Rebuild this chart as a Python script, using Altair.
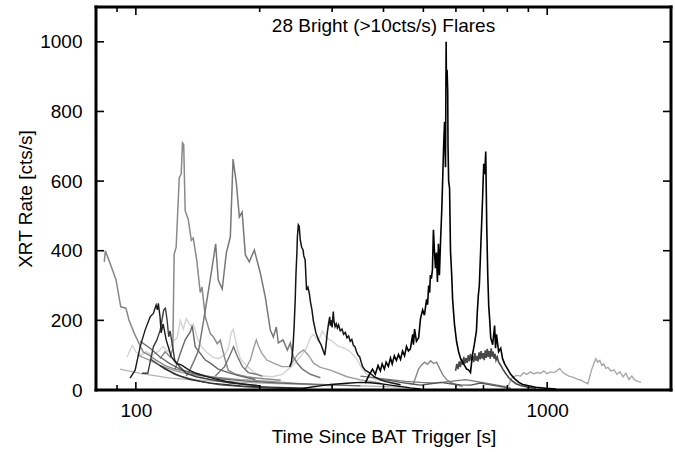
import altair as alt
import pandas as pd

TITLE = "28 Bright (>10cts/s) Flares"
X_TITLE = "Time Since BAT Trigger [s]"
Y_TITLE = "XRT Rate [cts/s]"
X_LABELS = [100, 1000]
X_MINOR = [90, 200, 300, 400, 500, 600, 700, 800, 900]
Y_LABELS = [0, 200, 400, 600, 800, 1000]
Y_TICKS = [200, 400, 600, 800, 1000]

# ---- light curves (time [s], rate [cts/s]) ----
K_T = [95.2, 98.0, 100.1, 102.9, 106.0, 109.5, 113.3, 116.5, 119.8, 123.2, 126.0, 128.2, 130.4, 132.6, 135.6,
       137.9, 141.0, 144.2, 148.3, 153.4, 158.6, 164.1, 167.8, 170.6, 172.6, 175.5, 179.5, 185.7, 194.1, 203.0,
       214.7, 227.0, 240.1, 251.1, 259.7, 265.6, 270.1, 277.8, 284.1, 290.5, 300.4, 310.7, 321.3, 332.3, 343.6,
       355.4, 367.6, 384.4, 415.8]
K_V = [95, 128, 109, 100, 110, 100, 110, 125, 110, 140, 150, 200, 175, 205, 185,
       190, 150, 125, 110, 95, 90, 100, 120, 165, 175, 130, 90, 70, 50, 40,
       38, 45, 70, 95, 120, 150, 160, 140, 170, 150, 140, 125, 120, 110, 90,
       60, 40, 30, 25]

N5_T = [91.5, 102.4, 121.2, 151.7, 189.8, 240.1, 297.1, 371.7, 439.8]
N5_V = [60, 48, 34, 26, 21, 17, 14, 11, 8]

N2_T = [101.0, 108.3, 114.5, 124.6, 135.6, 151.7, 179.5, 212.3, 251.1, 300.4]
N2_V = [100, 85, 70, 55, 45, 38, 30, 25, 18, 12]

Q_T = [184.6, 189.8, 193.3, 196.3, 198.8, 202.5, 208.2, 216.2, 226.6, 237.4, 241.8, 248.7, 255.8, 262.7,
       270.5, 280.9, 297.1, 326.2, 351.5, 393.2]
Q_V = [60, 86, 120, 144, 125, 105, 86, 77, 67, 67, 86, 105, 115, 100,
       77, 65, 57, 38, 29, 20]

J_T = [804, 815, 827, 843, 862, 877, 892, 912, 928, 944, 965, 981, 998, 1020, 1038, 1056, 1073, 1091,
       1110, 1129, 1153, 1180, 1207, 1235, 1256, 1270, 1284, 1298, 1313, 1327, 1343, 1358, 1373, 1389,
       1405, 1428, 1453, 1478, 1503, 1528, 1554, 1580, 1606, 1634, 1662, 1690]
J_V = [10, 30, 38, 42, 40, 50, 45, 52, 46, 50, 48, 55, 47, 52, 50, 55, 62, 50,
       45, 40, 37, 32, 28, 22, 18, 40, 60, 75, 90, 80, 85, 70, 75, 62,
       65, 55, 58, 45, 52, 38, 48, 30, 40, 28, 25, 22]

A_T = [83.8, 84.3, 86.0, 88.0, 89.5, 91.9, 94.6, 96.2, 99.0, 101.4, 104.2, 107.7, 111.9, 117.8, 124.6,
       135.6, 151.7, 169.7]
A_V = [368, 400, 373, 340, 316, 239, 235, 201, 164, 138, 109, 100, 86, 70, 60, 50, 38, 30]

B_T = [114.5, 117.8, 121.2, 123.0, 123.9, 125.3, 127.5, 128.9, 129.8, 130.7, 131.8, 134.1, 136.4, 137.9,
       140.6, 143.4, 144.8, 147.5, 150.0, 151.7, 154.5, 157.7, 160.4, 161.9, 165.0, 167.8, 175.0, 186.0,
       205.0, 225.0]
B_V = [90, 110, 95, 120, 390, 410, 610, 620, 710, 705, 515, 490, 430, 436,
       373, 280, 296, 210, 181, 162, 152, 133, 143, 123, 85, 56, 45, 38,
       32, 28]

C_T = [132.6, 135.6, 138.7, 142.1, 146.6, 151.1, 154.2, 156.3, 158.6, 162.2, 165.9, 169.7, 172.3, 175.5,
       178.5, 181.3, 184.6, 188.7, 194.1, 200.7, 206.4, 212.3, 215.9, 219.5, 222.0, 228.0, 233.5, 237.4,
       241.4, 246.9, 254.0, 265.6, 280.9]
C_V = [40, 60, 85, 114, 210, 306, 373, 420, 316, 290, 393, 440, 663, 594,
       497, 511, 388, 368, 402, 336, 267, 172, 152, 181, 135, 144, 115, 135,
       95, 77, 60, 45, 35]

I_T = [471.3, 478.6, 486.8, 495.0, 503.4, 512.0, 520.5, 529.4, 538.3, 547.5, 556.8, 569.4, 582.3, 602.2, 622.9]
I_V = [15, 35, 60, 72, 80, 74, 84, 76, 80, 62, 45, 30, 22, 15, 10]

T_T = [351.5, 382.3, 415.8, 452.3, 492.1, 535.3, 582.3, 633.4, 669.9, 708.5, 749.3, 792.7]
T_V = [40, 35, 30, 25, 22, 20, 25, 30, 25, 20, 15, 10]

P_T = [156.0, 164.3, 168.8, 172.8, 176.6, 181.6, 187.7, 196.3, 203.0]
P_V = [40, 67, 96, 124, 96, 67, 50, 45, 40]

N1_T = [102.4, 108.3, 114.5, 121.2, 128.2, 135.6, 143.4, 160.4, 189.8, 224.5, 280.9, 351.5]
N1_V = [140, 120, 95, 75, 60, 50, 42, 32, 25, 20, 16, 12]

O_T = [124.6, 128.2, 131.8, 135.6, 137.1, 139.4, 143.4, 147.5, 151.7, 158.6, 167.8, 179.5, 195.2]
O_V = [60, 105, 144, 167, 185, 124, 105, 86, 77, 60, 50, 40, 30]

S_T = [393.2, 415.8, 439.8, 465.1, 492.1, 520.5, 550.6, 582.3, 615.9, 651.3, 688.9, 728.6, 770.9, 815.4]
S_V = [30, 27, 22, 18, 14, 18, 22, 18, 15, 14, 20, 15, 10, 5]

H_T = [598.8, 603, 607, 611, 615, 619, 623, 627, 631, 635, 639, 643, 647, 651, 655, 659, 663, 667, 671,
       675, 679, 683, 687, 691, 695, 699, 703, 707, 711, 715, 719, 723, 727, 731, 735, 739, 743, 747,
       751, 756, 762, 770, 780, 792, 806, 822, 840, 865, 900, 940]
H_V = [55, 75, 60, 82, 66, 88, 72, 95, 76, 92, 78, 100, 82, 104, 85, 98, 80, 106, 84,
       98, 82, 108, 88, 112, 90, 106, 86, 114, 92, 118, 95, 112, 90, 120, 96, 110, 90, 104,
       86, 95, 80, 72, 60, 48, 36, 26, 18, 12, 8, 5]

N3_T = [108.3, 117.8, 128.2, 143.4, 160.4, 189.8, 224.5, 251.1]
N3_V = [90, 60, 40, 25, 15, 8, 5, 3]

M_T = [103.5, 106.9, 110.3, 112.5, 114.6, 116.9, 118.0, 119.1, 120.2, 121.1, 122.5, 124.3, 127.8, 132.6,
       140.2, 151.7, 169.7, 200.7]
M_V = [48, 48, 124, 144, 172, 230, 235, 201, 153, 170, 134, 86, 67, 48,
       38, 30, 20, 12]

N4_T = [114.5, 124.6, 135.6, 151.7, 179.5, 212.3, 260.0]
N4_V = [70, 45, 30, 20, 12, 8, 5]

L_T = [96.8, 99.6, 102.4, 105.3, 108.3, 110.3, 112.0, 112.8, 113.4, 114.5, 115.2, 116.5, 118.5, 121.9,
       125.3, 128.9, 134.8, 140.2, 147.5, 156.0, 165.0, 179.5, 200.7]
L_V = [34, 57, 124, 172, 210, 220, 244, 230, 249, 210, 164, 190, 144, 96,
       77, 72, 57, 48, 40, 32, 25, 18, 12]

D_T = [236.5, 239, 241, 242.5, 244, 245, 246.3, 247, 248.3, 249.5, 251, 253, 255, 256, 258, 260, 262,
       264, 266, 268, 270, 272, 274, 278, 282, 285, 288, 290, 292, 294, 296, 297, 298, 300, 302, 303,
       305, 307, 309, 311, 314, 317, 320, 323, 326, 329, 332, 335, 338, 341, 344, 347, 350, 353, 356,
       361, 366, 371, 380, 393, 405, 420, 440]
D_V = [67, 80, 124, 180, 258, 330, 393, 440, 474, 470, 431, 410, 402, 385, 373, 287, 295,
       278, 250, 230, 200, 182, 164, 144, 130, 115, 100, 130, 164, 190, 210, 185, 201, 180, 225, 200,
       182, 190, 178, 187, 170, 175, 160, 165, 150, 155, 140, 145, 128, 124, 110, 100, 96, 80, 67,
       57, 53, 48, 38, 29, 24, 20, 15]

R_T = [251.1, 265.6, 280.9, 297.1, 314.2, 332.3, 351.5, 371.7, 393.2, 415.8, 439.8, 465.1, 492.1]
R_V = [3, 8, 12, 16, 18, 20, 22, 21, 18, 14, 10, 6, 3]

F_T = [361, 368, 376, 382, 388, 393, 397, 402, 406, 411, 416, 420, 425, 430, 435, 440, 445, 450, 455,
       460, 465, 471, 473, 476, 481, 487, 492, 498, 503, 509, 512, 515, 518, 520, 523, 526, 529, 532,
       535, 538, 541, 544, 547, 551, 554, 557, 560, 563, 566, 568, 569, 571, 573, 574, 576, 579, 582,
       586, 589, 595, 602, 609, 616, 623, 630, 637, 644, 651, 658, 665, 673, 676, 680, 684, 689, 693,
       697, 701, 705, 709, 713, 717, 721, 725, 729, 737, 745, 749, 753, 762, 771, 779, 788, 797, 806,
       815, 834, 853, 872, 902, 938, 992, 1050]
F_V = [20, 40, 60, 45, 70, 55, 75, 60, 80, 68, 92, 75, 98, 85, 102, 88, 112, 98, 125,
       112, 118, 160, 130, 175, 140, 150, 205, 230, 215, 260, 245, 300, 280, 330, 320, 345, 460, 400,
       350, 395, 310, 420, 330, 440, 510, 600, 700, 770, 640, 1000, 880, 920, 860, 700, 600, 580, 400,
       330, 260, 190, 140, 110, 90, 80, 70, 60, 58, 50, 100, 130, 170, 220, 270, 300, 400, 480,
       560, 650, 620, 685, 470, 330, 240, 200, 150, 130, 185, 120, 160, 110, 120, 90, 75, 65, 55,
       45, 32, 22, 16, 12, 8, 5, 3]

SERIES = [
    (K_T, K_V, "#d4d4d4", 1.4),
    (N5_T, N5_V, "#b4b4b4", 1.3),
    (J_T, J_V, "#a8a8a8", 1.4),
    (N2_T, N2_V, "#989898", 1.3),
    (Q_T, Q_V, "#9e9e9e", 1.4),
    (A_T, A_V, "#888888", 1.5),
    (B_T, B_V, "#8a8a8a", 1.5),
    (C_T, C_V, "#787878", 1.5),
    (I_T, I_V, "#868686", 1.4),
    (T_T, T_V, "#767676", 1.3),
    (P_T, P_V, "#737373", 1.4),
    (N1_T, N1_V, "#666666", 1.3),
    (O_T, O_V, "#666666", 1.4),
    (S_T, S_V, "#565656", 1.3),
    (H_T, H_V, "#484848", 1.6),
    (N3_T, N3_V, "#4c4c4c", 1.3),
    (M_T, M_V, "#3c3c3c", 1.4),
    (N4_T, N4_V, "#303030", 1.3),
    (L_T, L_V, "#1a1a1a", 1.4),
    (D_T, D_V, "#141414", 1.5),
    (R_T, R_V, "#101010", 1.4),
    (F_T, F_V, "#000000", 1.6),
]

FONT = "Liberation Sans"
W, H = 575, 383

xscale = alt.Scale(type="log", domain=[80, 2000], nice=False)
yscale = alt.Scale(domain=[0, 1100], nice=False, zero=True)

X = alt.X("t:Q", scale=xscale,
          axis=alt.Axis(values=X_LABELS, format="d", title=X_TITLE, ticks=False, tickSize=0,
                        domain=False, grid=False, labelPadding=11, titlePadding=7,
                        labelFontSize=19, titleFontSize=19, labelFont=FONT, titleFont=FONT,
                        titleFontWeight="normal", labelColor="black", titleColor="black",
                        labelFlush=False, labelOverlap=False))
Y = alt.Y("v:Q", scale=yscale,
          axis=alt.Axis(values=Y_LABELS, format="d", title=Y_TITLE, ticks=False, tickSize=0,
                        domain=False, grid=False, labelPadding=14, titlePadding=4,
                        labelFontSize=19, titleFontSize=19, labelFont=FONT, titleFont=FONT,
                        titleFontWeight="normal", labelColor="black", titleColor="black",
                        labelFlush=False, labelOverlap=False))

layers = []
for ts, vs, col, sw in SERIES:
    df = pd.DataFrame({"t": ts, "v": vs})
    layers.append(
        alt.Chart(df).mark_line(color=col, strokeWidth=sw, interpolate="linear", clip=True)
        .encode(x=X, y=Y)
    )

# inward ticks on all four sides
major = pd.DataFrame({"t": X_LABELS})
minor = pd.DataFrame({"t": X_MINOR})
yt = pd.DataFrame({"v": Y_TICKS})
tick_style = dict(color="black", strokeWidth=1.6)
layers += [
    alt.Chart(major).mark_rule(**tick_style).encode(x=X, y=alt.value(H), y2=alt.value(H - 8)),
    alt.Chart(major).mark_rule(**tick_style).encode(x=X, y=alt.value(0), y2=alt.value(8)),
    alt.Chart(minor).mark_rule(**tick_style).encode(x=X, y=alt.value(H), y2=alt.value(H - 5)),
    alt.Chart(minor).mark_rule(**tick_style).encode(x=X, y=alt.value(0), y2=alt.value(5)),
    alt.Chart(yt).mark_rule(**tick_style).encode(y=Y, x=alt.value(0), x2=alt.value(8)),
    alt.Chart(yt).mark_rule(**tick_style).encode(y=Y, x=alt.value(W), x2=alt.value(W - 8)),
]

# plot frame drawn as four thick rules
one = pd.DataFrame({"k": [0]})
frame_style = dict(color="#000000", strokeWidth=3, strokeCap="square")
layers += [
    alt.Chart(one).mark_rule(**frame_style).encode(x=alt.value(0), y=alt.value(0), y2=alt.value(H)),
    alt.Chart(one).mark_rule(**frame_style).encode(x=alt.value(W), y=alt.value(0), y2=alt.value(H)),
    alt.Chart(one).mark_rule(**frame_style).encode(y=alt.value(0), x=alt.value(0), x2=alt.value(W)),
    alt.Chart(one).mark_rule(**frame_style).encode(y=alt.value(H), x=alt.value(0), x2=alt.value(W)),
]

title_df = pd.DataFrame({"label": [TITLE]})
layers.append(
    alt.Chart(title_df).mark_text(font=FONT, fontSize=19, color="black", align="center",
                                  baseline="alphabetic")
    .encode(x=alt.value(W / 2), y=alt.value(25), text="label:N")
)

chart = alt.layer(*layers).properties(
    width=W, height=H,
    background="white",
    autosize=alt.AutoSizeParams(type="none"),
    padding={"left": 96, "top": 7, "right": 4, "bottom": 62},
).configure_view(
    stroke="#000000", strokeWidth=2, fill="white"
)

chart.save("out.html", embed_options={"renderer": "svg", "actions": False})
